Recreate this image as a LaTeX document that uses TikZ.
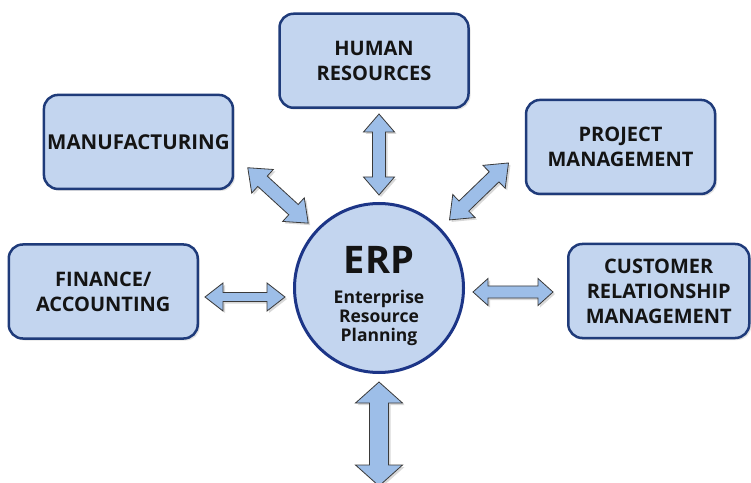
\documentclass[tikz,border=0pt]{standalone}
\usepackage{fontspec}
\setmainfont{Open Sans}
\usetikzlibrary{positioning,shadows,calc}

\definecolor{boxfill}{HTML}{C3D5EF}
\definecolor{boxline}{HTML}{1F3B7A}
\definecolor{arrowfill}{HTML}{9DBEE8}
\definecolor{arrowline}{HTML}{3A3A3A}
\definecolor{textdark}{HTML}{141414}

% block double arrow, drawn radially from the ERP circle
% #1 angle, #2 inner end, #3 outer end, #4 half shaft, #5 half head, #6 head length, #7 offset
\newcommand{\spoke}[7]{%
  \begin{scope}[shift={($(erp.center)+(#7)$)}, rotate=#1]
    \draw[blockarrow] (#2,0) -- ++(#6,#5) -- ++(0,#4-#5) -- (#3-#6,#4) -- ++(0,#5-#4)
      -- (#3,0) -- (#3-#6,-#5) -- ++(0,#5-#4) -- (#2+#6,-#4) -- ++(0,#4-#5) -- cycle;
  \end{scope}}

\begin{document}
\begin{tikzpicture}[
    x=1pt, y=1pt,
    box/.style={draw=boxline, line width=2.5pt, fill=boxfill, rounded corners=14pt,
      align=center, text=textdark, minimum width=189pt, minimum height=94pt, inner sep=1pt,
      font=\fontsize{20}{25}\selectfont\bfseries,
      drop shadow={shadow xshift=2pt, shadow yshift=-2pt, opacity=0.22}},
    erpcircle/.style={circle, draw=boxline!90!blue, line width=3pt, fill=boxfill,
      minimum size=169pt, inner sep=0pt, align=center, text=textdark,
      font=\fontsize{17.5}{19}\selectfont\bfseries},
    blockarrow/.style={draw=arrowline, line width=0.8pt, fill=arrowfill, line join=miter,
      drop shadow={shadow xshift=2pt, shadow yshift=-2pt, opacity=0.3}},
  ]
  \useasboundingbox (0,0) rectangle (751,482);
  \fill[white] (0,0) rectangle (751,482);

  \node[erpcircle] (erp) at (379,194) {{\fontsize{38}{40}\selectfont\rule{0pt}{43pt}ERP}\\[11pt]
    Enterprise\\Resource\\Planning};

  \node[box, above=93pt of erp, xshift=-5pt] (hr) {HUMAN\\RESOURCES};
  \node[box, above left=37pt and 84pt of erp, font=\fontsize{20.5}{25}\selectfont\bfseries] (manuf) {MANUFACTURING};
  \node[box, above right=32pt and 85pt of erp] (pm) {PROJECT\\MANAGEMENT};
  \node[box, left=94pt of erp, yshift=-3.5pt] (fin) {FINANCE/\\ACCOUNTING};
  \node[box, right=102pt of erp, yshift=-3pt, minimum width=181pt] (crm) {CUSTOMER\\RELATIONSHIP\\MANAGEMENT};

  % arrows between the circle and the boxes
  \spoke{90}{93}{174}{6.5}{15.5}{18}{0,0}
  \spoke{270}{94}{198}{9.5}{23.5}{21}{0,0}
  \spoke{180}{94}{174}{4.5}{14}{18}{0,-9}
  \spoke{0}{94}{174}{6}{13.5}{15}{0,-4}
  \spoke{137.5}{96}{178}{7}{16}{20}{0,0}
  \spoke{44}{98}{180}{7}{16}{20}{0,0}
\end{tikzpicture}
\end{document}
